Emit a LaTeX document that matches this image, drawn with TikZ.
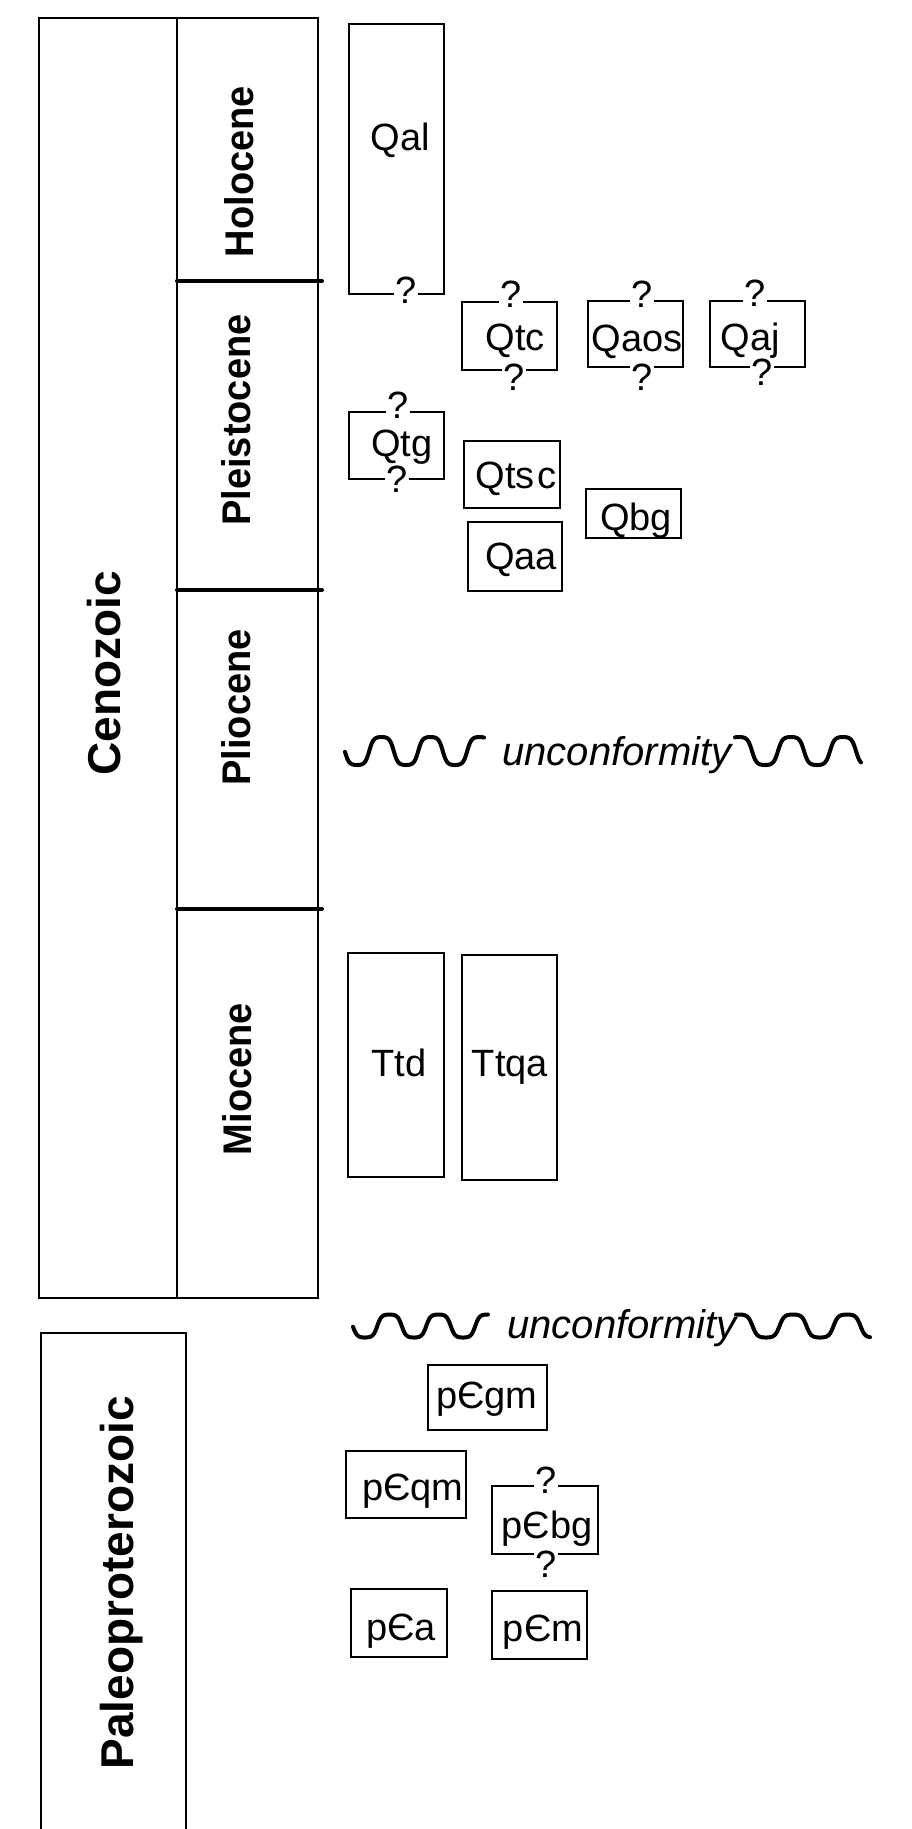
\documentclass[tikz,border=0pt]{standalone}
\usepackage{fontspec}
\setmainfont{Liberation Sans}
\begin{document}
\begin{tikzpicture}[x=1pt,y=-1pt,
  frame/.style={line width=2.3pt},
  bound/.style={line width=4pt, line cap=round},
  wave/.style={line width=4pt, line cap=round, line join=round},
  era/.style={font=\fontsize{46}{46}\selectfont\bfseries, rotate=90, inner sep=0pt, text height=33pt, text depth=0pt},
  epoch/.style={font=\fontsize{40}{40}\selectfont\bfseries, rotate=90, inner sep=0pt, text height=28.6pt, text depth=0pt},
  unitbox/.style={line width=2.3pt},
  unit/.style={font=\fontsize{38}{38}\selectfont, inner sep=0pt, text height=27.2pt, text depth=0pt},
  qm/.style={font=\fontsize{38}{38}\selectfont, anchor=base, fill=white, inner xsep=1pt, inner ysep=0pt},
  unconf/.style={font=\fontsize{40}{40}\selectfont\itshape, anchor=base, inner sep=0pt}
]
\useasboundingbox (0,0) rectangle (912,1829);

% Cenozoic column
\draw[frame] (39,18) rectangle (318,1298);
\draw[frame] (177,18) -- (177,1298);
\draw[bound] (177,281) -- (322,281);
\draw[bound] (177,590) -- (322,590);
\draw[bound] (177,909) -- (322,909);

% Paleoproterozoic column (open at the bottom)
\draw[frame] (41,1845) -- (41,1333) -- (186,1333) -- (186,1845);

\node[era] (cenozoic) at (103.5,673) {Cenozoic};
\node[era] (paleo) at (116.5,1583) {Paleoproterozoic};
\node[epoch] (holocene) at (239,171.5) {\scalebox{0.95}[1]{Holocene}};
\node[epoch] (pleistocene) at (236,420) {\scalebox{0.95}[1]{Pleistocene}};
\node[epoch] (pliocene) at (236,707.5) {\scalebox{0.95}[1]{Pliocene}};
\node[epoch] (miocene) at (237,1079) {\scalebox{0.95}[1]{Miocene}};

% Quaternary units
\draw[unitbox] (349,24) rectangle (444,294);
\node[unit] (qal) at (400,137) {Qal};
\node[qm] (qalq) at (406,303) {?};

\draw[unitbox] (462,302) rectangle (557,370);
\node[unit] (qtc) at (515,337) {Qtc};
\node[qm] (qtct) at (511,307) {?};
\node[qm] (qtcb) at (514,390) {?};

\draw[unitbox] (588,301) rectangle (683,367);
\node[unit] (qaos) at (637,338) {Qaos};
\node[qm] (qaost) at (642,307) {?};
\node[qm] (qaosb) at (642,390) {?};

\draw[unitbox] (710,301) rectangle (805,367);
\node[unit] (qaj) at (750,337) {Qaj};
\node[qm] (qajt) at (755,306) {?};
\node[qm] (qajb) at (762,385) {?};

\draw[unitbox] (349,412) rectangle (444,479);
\node[unit] (qtg) at (402,443) {Qtg};
\node[qm] (qtgt) at (398,418) {?};
\node[qm] (qtgb) at (397,492) {?};

\draw[unitbox] (464,441) rectangle (560,508);
\node[unit] (qtsc) at (516,475) {Qts\kern2.5pt c};

\draw[unitbox] (468,522) rectangle (562,591);
\node[unit] (qaa) at (521,556) {Qaa};

\draw[unitbox] (586,489) rectangle (681,538);
\node[unit] (qbg) at (636,517) {Qbg};

% upper unconformity
\draw[wave] plot[domain=345:484, samples=220] (\x,{751+14*tanh(1.8*cos((\x-357)/24.5*180))/tanh(1.8)});
\node[unconf] (unc1) at (617,765) {unconformity};
\draw[wave] plot[domain=735:861, samples=220] (\x,{751-14*tanh(1.8*cos((\x-739)/26*180))/tanh(1.8)});

% Tertiary units
\draw[unitbox] (348,953) rectangle (444,1177);
\node[unit] (ttd) at (399,1063) {Ttd};
\draw[unitbox] (462,955) rectangle (557,1180);
\node[unit] (ttqa) at (510,1063) {Ttqa};

% lower unconformity
\draw[wave] plot[domain=353:488, samples=220] (\x,{1326+11.5*tanh(1.8*cos((\x-365)/24.5*180))/tanh(1.8)});
\node[unconf] (unc2) at (622,1338) {unconformity};
\draw[wave] plot[domain=736:870, samples=220] (\x,{1326-11.5*tanh(1.8*cos((\x-739)/27*180))/tanh(1.8)});

% Precambrian units
\draw[unitbox] (428,1365) rectangle (547,1430);
\node[unit] (pcgm) at (487,1395) {pЄgm};
\draw[unitbox] (346,1451) rectangle (466,1518);
\node[unit] (pcqm) at (413,1487) {pЄqm};
\draw[unitbox] (492,1486) rectangle (598,1554);
\node[unit] (pcbg) at (547,1525) {pЄbg};
\node[qm] (pcbgt) at (546,1493) {?};
\node[qm] (pcbgb) at (546,1577) {?};
\draw[unitbox] (351,1589) rectangle (447,1657);
\node[unit] (pca) at (401,1627) {pЄa};
\draw[unitbox] (492,1591) rectangle (587,1659);
\node[unit] (pcm) at (543,1628) {pЄm};
\end{tikzpicture}
\end{document}
